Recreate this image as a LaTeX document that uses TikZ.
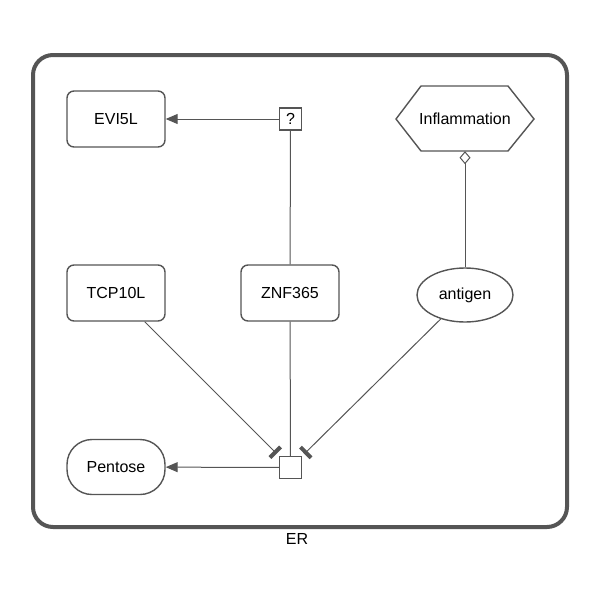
\documentclass[tikz,border=0pt]{standalone}
\usepackage{fontspec}
\setmainfont{Liberation Sans}
\usetikzlibrary{arrows.meta,shapes.geometric}
\definecolor{lc}{HTML}{555555}
\begin{document}
\begin{tikzpicture}[x=1pt,y=-1pt,
  every node/.style={font=\fontsize{16}{19}\selectfont},
  rbox/.style={draw=lc,line width=1.4pt,rounded corners=7pt,minimum width=98pt,minimum height=56pt,fill=white},
  ebox/.style={draw=lc,line width=1.4pt,ellipse,minimum width=96pt,minimum height=54pt,fill=white},
  sbox/.style={draw=lc,line width=1.4pt,rounded corners=25pt,minimum width=98pt,minimum height=55pt,fill=white},
  qbox/.style={draw=lc,line width=1.4pt,minimum size=22pt,inner sep=0pt,fill=white},
  edge/.style={draw=lc,line width=1pt},
  arr/.style={edge,-{Triangle[length=12pt,width=10pt]}},
  inh/.style={edge,-{Bar[width=15pt,line width=4pt]},shorten >=3pt},
  comp/.style={draw=lc,line width=4pt,rounded corners=20pt}]
\useasboundingbox (0,0) rectangle (600,600);
\draw[comp] (33,55) rectangle (567,527);
\node (er) at (297,539) {ER};
\node[rbox] (evi) at (116,119) {EVI5L};
\node[qbox] (q) at (290.5,119) {?};
\draw[draw=lc,line width=1.4pt,fill=white] (396,119) -- (421,86) -- (508,86) -- (534,119) -- (508,151) -- (421,151) -- cycle;
\node[inner sep=0pt,minimum width=138pt,minimum height=65pt] (infl) at (465,118.5) {Inflammation};
\node[rbox] (tcp) at (116,293) {TCP10L};
\node[rbox] (znf) at (290,293) {ZNF365};
\node[ebox] (ant) at (465,295) {antigen};
\node[sbox] (pen) at (116,467) {Pentose};
\node[qbox] (p) at (290.5,467.5) {};
\draw[arr] (q) -- (evi);
\draw[edge] (znf) -- (q);
\draw[edge,-{Diamond[open,length=13pt,width=11pt,fill=white]}] (ant) -- (infl.south -| ant);
\draw[inh] (tcp) -- (p);
\draw[inh] (ant) -- (p);
\draw[edge] (znf) -- (p);
\draw[arr] (p) -- (pen);
\end{tikzpicture}
\end{document}
